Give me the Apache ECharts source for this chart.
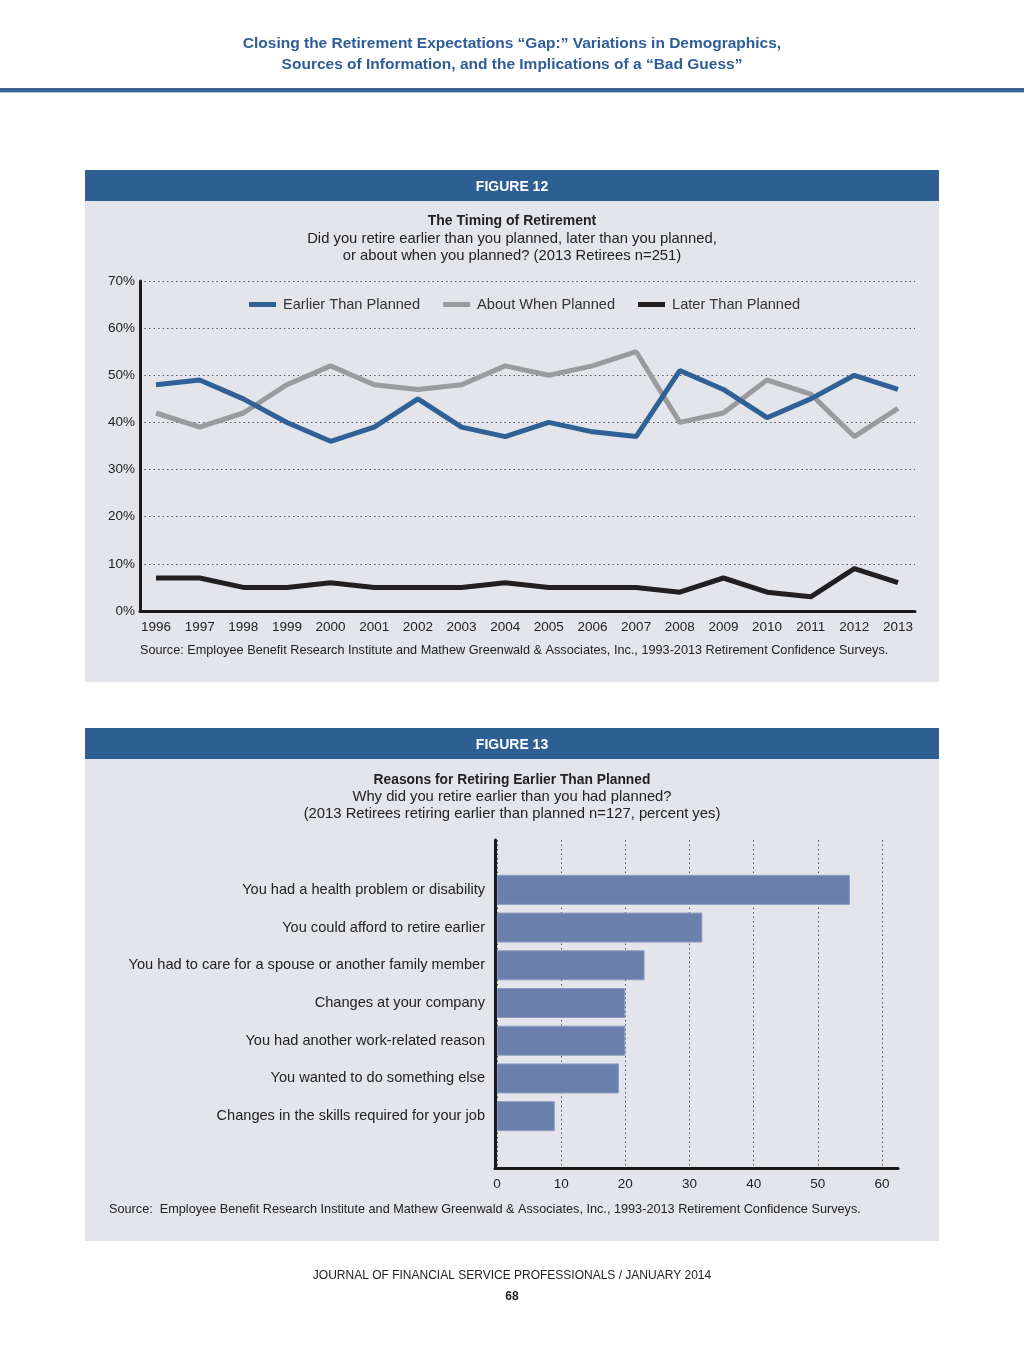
<!DOCTYPE html>
<html>
<head>
<meta charset="utf-8">
<script src="https://cdn.jsdelivr.net/npm/echarts@6/dist/echarts.min.js"></script>
<style>
html,body{margin:0;padding:0;background:#fff;}
#main{width:1024px;height:1349px;}
</style>
</head>
<body>
<div id="main"></div>
<script>
// ---- Figure 12 data ----
const years = ['1996','1997','1998','1999','2000','2001','2002','2003','2004','2005','2006','2007','2008','2009','2010','2011','2012','2013'];
const earlierThanPlanned = [48,49,45,40,36,39,45,39,37,40,38,37,51,47,41,45,50,47];
const aboutWhenPlanned   = [42,39,42,48,52,48,47,48,52,50,52,55,40,42,49,46,37,43];
const laterThanPlanned   = [7,7,5,5,6,5,5,5,6,5,5,5,4,7,4,3,9,6];
const seriesNames = ['Earlier Than Planned','About When Planned','Later Than Planned'];

// ---- Figure 13 data ----
const reasons = [
  'You had a health problem or disability',
  'You could afford to retire earlier',
  'You had to care for a spouse or another family member',
  'Changes at your company',
  'You had another work-related reason',
  'You wanted to do something else',
  'Changes in the skills required for your job'
];
const reasonValues = [55,32,23,20,20,19,9];

const FONT = '"Liberation Sans", Arial, sans-serif';
const chart = echarts.init(document.getElementById('main'), null, {renderer:'canvas'});

function txt(text, x, y, size, opts){
  opts = opts || {};
  return {type:'text', x:x, y:y, z:10, style:{
    text:text, x:0, y:0, textAlign:opts.align||'center', textVerticalAlign:'middle',
    font:(opts.weight||'normal')+' '+size+'px '+(opts.family||FONT),
    fill:opts.color||'#222'
  }};
}

const hiddenAxisBits = {axisLine:{show:false}, axisTick:{show:false}, axisLabel:{show:false}, splitLine:{show:false}};

const option = {
  backgroundColor:'#ffffff',
  animation:false,
  graphic:[
    // page header
    txt('Closing the Retirement Expectations \u201cGap:\u201d Variations in Demographics,', 512, 44, 15.5, {weight:'bold', color:'#2f5d98'}),
    txt('Sources of Information, and the Implications of a \u201cBad Guess\u201d', 512, 65, 15.5, {weight:'bold', color:'#2f5d98'}),
    {type:'rect', shape:{x:0,y:88,width:1024,height:4}, style:{fill:'#3a6397'}, z:1},
    {type:'rect', shape:{x:0,y:92,width:1024,height:1}, style:{fill:'#b9c6d8'}, z:1},
    // figure 12 panel
    {type:'rect', shape:{x:85,y:170,width:854,height:512}, style:{fill:'#e3e5ea'}, z:-10},
    {type:'rect', shape:{x:85,y:170,width:854,height:31}, style:{fill:'#2d5f93'}, z:-9},
    txt('FIGURE 12', 512, 187, 14, {weight:'bold', color:'#ffffff'}),
    txt('The Timing of Retirement', 512, 221, 14, {weight:'bold', color:'#222'}),
    txt('Did you retire earlier than you planned, later than you planned,', 512, 239, 14.8, {color:'#222'}),
    txt('or about when you planned? (2013 Retirees n=251)', 512, 256, 14.8, {color:'#222'}),
    txt('Source: Employee Benefit Research Institute and Mathew Greenwald & Associates, Inc., 1993-2013 Retirement Confidence Surveys.', 140, 650, 12.7, {align:'left', color:'#222'}),
    // figure 13 panel
    {type:'rect', shape:{x:85,y:728,width:854,height:513}, style:{fill:'#e3e5ea'}, z:-10},
    {type:'rect', shape:{x:85,y:728,width:854,height:31}, style:{fill:'#2d5f93'}, z:-9},
    txt('FIGURE 13', 512, 745, 14, {weight:'bold', color:'#ffffff'}),
    txt('Reasons for Retiring Earlier Than Planned', 512, 780, 13.8, {weight:'bold', color:'#222'}),
    txt('Why did you retire earlier than you had planned?', 512, 797, 14.8, {color:'#222'}),
    txt('(2013 Retirees retiring earlier than planned n=127, percent yes)', 512, 814, 14.8, {color:'#222'}),
    txt('Source:  Employee Benefit Research Institute and Mathew Greenwald & Associates, Inc., 1993-2013 Retirement Confidence Surveys.', 109, 1209, 12.7, {align:'left', color:'#222'}),
    // footer
    txt('JOURNAL OF FINANCIAL SERVICE PROFESSIONALS / JANUARY 2014', 512, 1276, 12, {color:'#222'}),
    txt('68', 512, 1297, 12, {weight:'bold', color:'#222'})
  ],
  legend:{
    data:seriesNames,
    left:249, top:297, padding:0,
    itemWidth:27, itemHeight:5, itemGap:23,
    icon:'rect',
    textStyle:{fontFamily:FONT, fontSize:14.6, color:'#333', padding:[0,0,0,2]}
  },
  grid:[
    {left:140, top:281, width:775, height:330},   // 0 fig12 frame
    {left:156, top:281, width:742, height:330},   // 1 fig12 data
    {left:497, top:840, width:385, height:328},   // 2 fig13 value ticks/grid
    {left:497, top:871, width:385, height:264},   // 3 fig13 bars
    {left:495, top:840, width:403, height:328}    // 4 fig13 frame
  ],
  xAxis:[
    {gridIndex:0, type:'value', min:0, max:1, axisLine:{show:true, onZero:false, lineStyle:{color:'#1a1a1a', width:3}}, axisTick:{show:false}, axisLabel:{show:false}, splitLine:{show:false}},
    {gridIndex:1, type:'category', data:years, boundaryGap:false,
      axisLine:{show:false}, axisTick:{show:false}, splitLine:{show:false},
      axisLabel:{margin:9, fontFamily:FONT, fontSize:13.5, color:'#222', interval:0}},
    {gridIndex:2, type:'value', min:0, max:60, interval:10,
      axisLine:{show:false}, axisTick:{show:false},
      axisLabel:{margin:9, fontFamily:FONT, fontSize:13.5, color:'#222'},
      splitLine:{show:true, lineStyle:{type:[1.5,3], color:'#555', width:1}}},
    Object.assign({gridIndex:3, type:'value', min:0, max:60}, hiddenAxisBits),
    {gridIndex:4, type:'value', min:0, max:1, axisLine:{show:true, onZero:false, lineStyle:{color:'#1a1a1a', width:3}}, axisTick:{show:false}, axisLabel:{show:false}, splitLine:{show:false}}
  ],
  yAxis:[
    {gridIndex:0, type:'value', min:0, max:70, interval:10,
      axisLine:{show:true, onZero:false, lineStyle:{color:'#1a1a1a', width:3}}, axisTick:{show:false},
      axisLabel:{formatter:'{value}%', margin:5, fontFamily:FONT, fontSize:13.5, color:'#222'},
      splitLine:{show:true, lineStyle:{type:[1.5,3], color:'#555', width:1}}},
    Object.assign({gridIndex:1, type:'value', min:0, max:70}, hiddenAxisBits),
    Object.assign({gridIndex:2, type:'value', min:0, max:1}, hiddenAxisBits),
    {gridIndex:3, type:'category', data:reasons, inverse:true,
      axisLine:{show:false}, axisTick:{show:false}, splitLine:{show:false},
      axisLabel:{margin:12, fontFamily:FONT, fontSize:14.6, color:'#222'}},
    {gridIndex:4, type:'value', min:0, max:1, axisLine:{show:true, onZero:false, lineStyle:{color:'#1a1a1a', width:3}}, axisTick:{show:false}, axisLabel:{show:false}, splitLine:{show:false}}
  ],
  series:[
    {name:seriesNames[0], type:'line', xAxisIndex:1, yAxisIndex:1, data:earlierThanPlanned,
      symbol:'none', lineStyle:{width:5, color:'#2f6096'}, itemStyle:{color:'#2f6096'}, z:4},
    {name:seriesNames[1], type:'line', xAxisIndex:1, yAxisIndex:1, data:aboutWhenPlanned,
      symbol:'none', lineStyle:{width:5, color:'#9a9b9d'}, itemStyle:{color:'#9a9b9d'}, z:3},
    {name:seriesNames[2], type:'line', xAxisIndex:1, yAxisIndex:1, data:laterThanPlanned,
      symbol:'none', lineStyle:{width:5, color:'#231f20'}, itemStyle:{color:'#231f20'}, z:3},
    {name:'Reasons', type:'bar', xAxisIndex:3, yAxisIndex:3, data:reasonValues,
      barWidth:30, itemStyle:{color:'#6a7fab', borderColor:'#8a9cc2', borderWidth:1}, z:2}
  ]
};
chart.setOption(option);
</script>
</body>
</html>
